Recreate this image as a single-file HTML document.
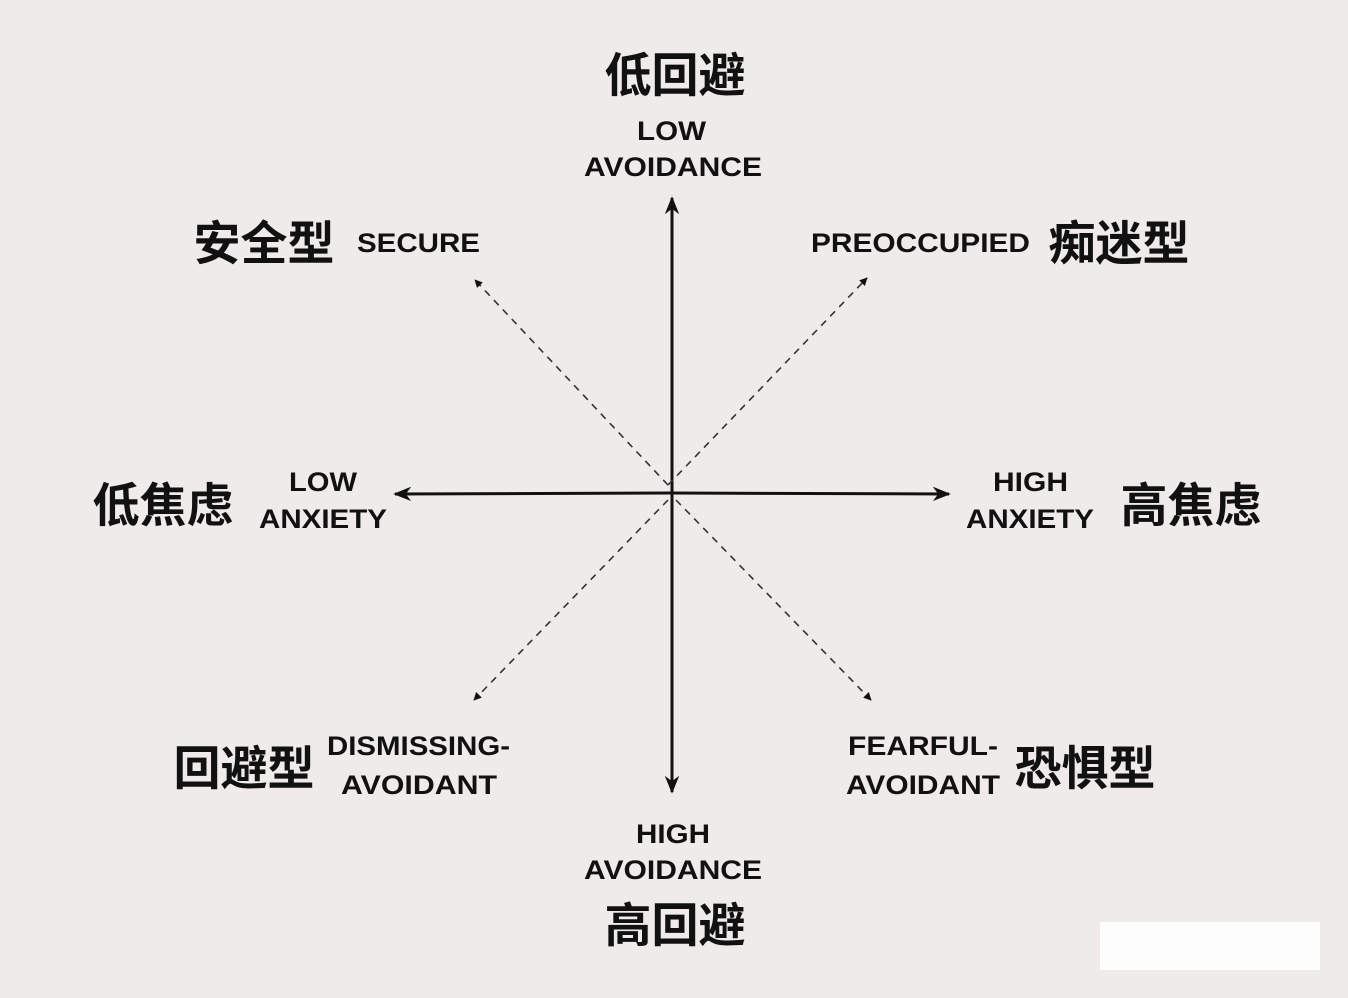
<!DOCTYPE html>
<html><head><meta charset="utf-8"><style>
html,body{margin:0;padding:0;background:#efebea;}
svg{display:block}
.e{font-family:"Liberation Sans",Arial,sans-serif;font-weight:bold;font-size:27px;fill:#111;}
.c{font-family:"Liberation Sans","Noto Sans CJK SC",sans-serif;font-weight:bold;font-size:47px;fill:#111;}
</style></head><body>
<svg width="1348" height="998" viewBox="0 0 1348 998" xmlns="http://www.w3.org/2000/svg">
<rect width="1348" height="998" fill="#efebea"/>
<rect x="1100" y="922" width="220" height="48" fill="#fdfdfe"/>
<defs>
<marker id="a" viewBox="0 0 10 10" refX="9" refY="5" markerWidth="8" markerHeight="8" orient="auto" markerUnits="userSpaceOnUse"><path d="M0,0 L10,5 L0,10 z" fill="#111"/></marker>
<marker id="b" viewBox="0 0 10 10" refX="9" refY="5" markerWidth="18" markerHeight="18" orient="auto" markerUnits="userSpaceOnUse"><path d="M0,1 L10,5 L0,9 L3,5 z" fill="#111"/></marker>
</defs>
<g stroke="#111" stroke-width="3" fill="none">
<line x1="672" y1="493" x2="672" y2="198" marker-end="url(#b)"/>
<line x1="672" y1="493" x2="672" y2="792" marker-end="url(#b)"/>
<line x1="671" y1="493" x2="395" y2="494" marker-end="url(#b)"/>
<line x1="671" y1="493" x2="949" y2="494" marker-end="url(#b)"/>
</g>
<g stroke="#333" stroke-width="1.6" stroke-dasharray="7,6" fill="none">
<line x1="668" y1="485" x2="475" y2="280" marker-end="url(#a)"/>
<line x1="668" y1="485" x2="867" y2="278" marker-end="url(#a)"/>
<line x1="668" y1="500" x2="474" y2="700" marker-end="url(#a)"/>
<line x1="676" y1="500" x2="871" y2="700" marker-end="url(#a)"/>
</g>
<g class="c" text-anchor="middle">
<text x="675" y="92">低回避</text>
<text x="675" y="942">高回避</text>
<text x="163" y="522">低焦虑</text>
<text x="1191" y="522">高焦虑</text>
<text x="264" y="260">安全型</text>
<text x="1119" y="260">痴迷型</text>
<text x="244" y="785">回避型</text>
<text x="1085" y="785">恐惧型</text>
</g>
<g class="e" lengthAdjust="spacingAndGlyphs">
<text x="637" y="140" textLength="69" lengthAdjust="spacingAndGlyphs">LOW</text>
<text x="584" y="176" textLength="178" lengthAdjust="spacingAndGlyphs">AVOIDANCE</text>
<text x="636" y="843" textLength="74" lengthAdjust="spacingAndGlyphs">HIGH</text>
<text x="584" y="879" textLength="178" lengthAdjust="spacingAndGlyphs">AVOIDANCE</text>
<text x="289" y="491" textLength="68" lengthAdjust="spacingAndGlyphs">LOW</text>
<text x="259" y="528" textLength="128" lengthAdjust="spacingAndGlyphs">ANXIETY</text>
<text x="993" y="491" textLength="75" lengthAdjust="spacingAndGlyphs">HIGH</text>
<text x="966" y="528" textLength="128" lengthAdjust="spacingAndGlyphs">ANXIETY</text>
<text x="357" y="252" textLength="123" lengthAdjust="spacingAndGlyphs">SECURE</text>
<text x="811" y="252" textLength="219" lengthAdjust="spacingAndGlyphs">PREOCCUPIED</text>
<text x="327" y="755" textLength="183" lengthAdjust="spacingAndGlyphs">DISMISSING-</text>
<text x="341" y="794" textLength="156" lengthAdjust="spacingAndGlyphs">AVOIDANT</text>
<text x="848" y="755" textLength="150" lengthAdjust="spacingAndGlyphs">FEARFUL-</text>
<text x="846" y="794" textLength="154" lengthAdjust="spacingAndGlyphs">AVOIDANT</text>
</g>
</svg>
</body></html>
